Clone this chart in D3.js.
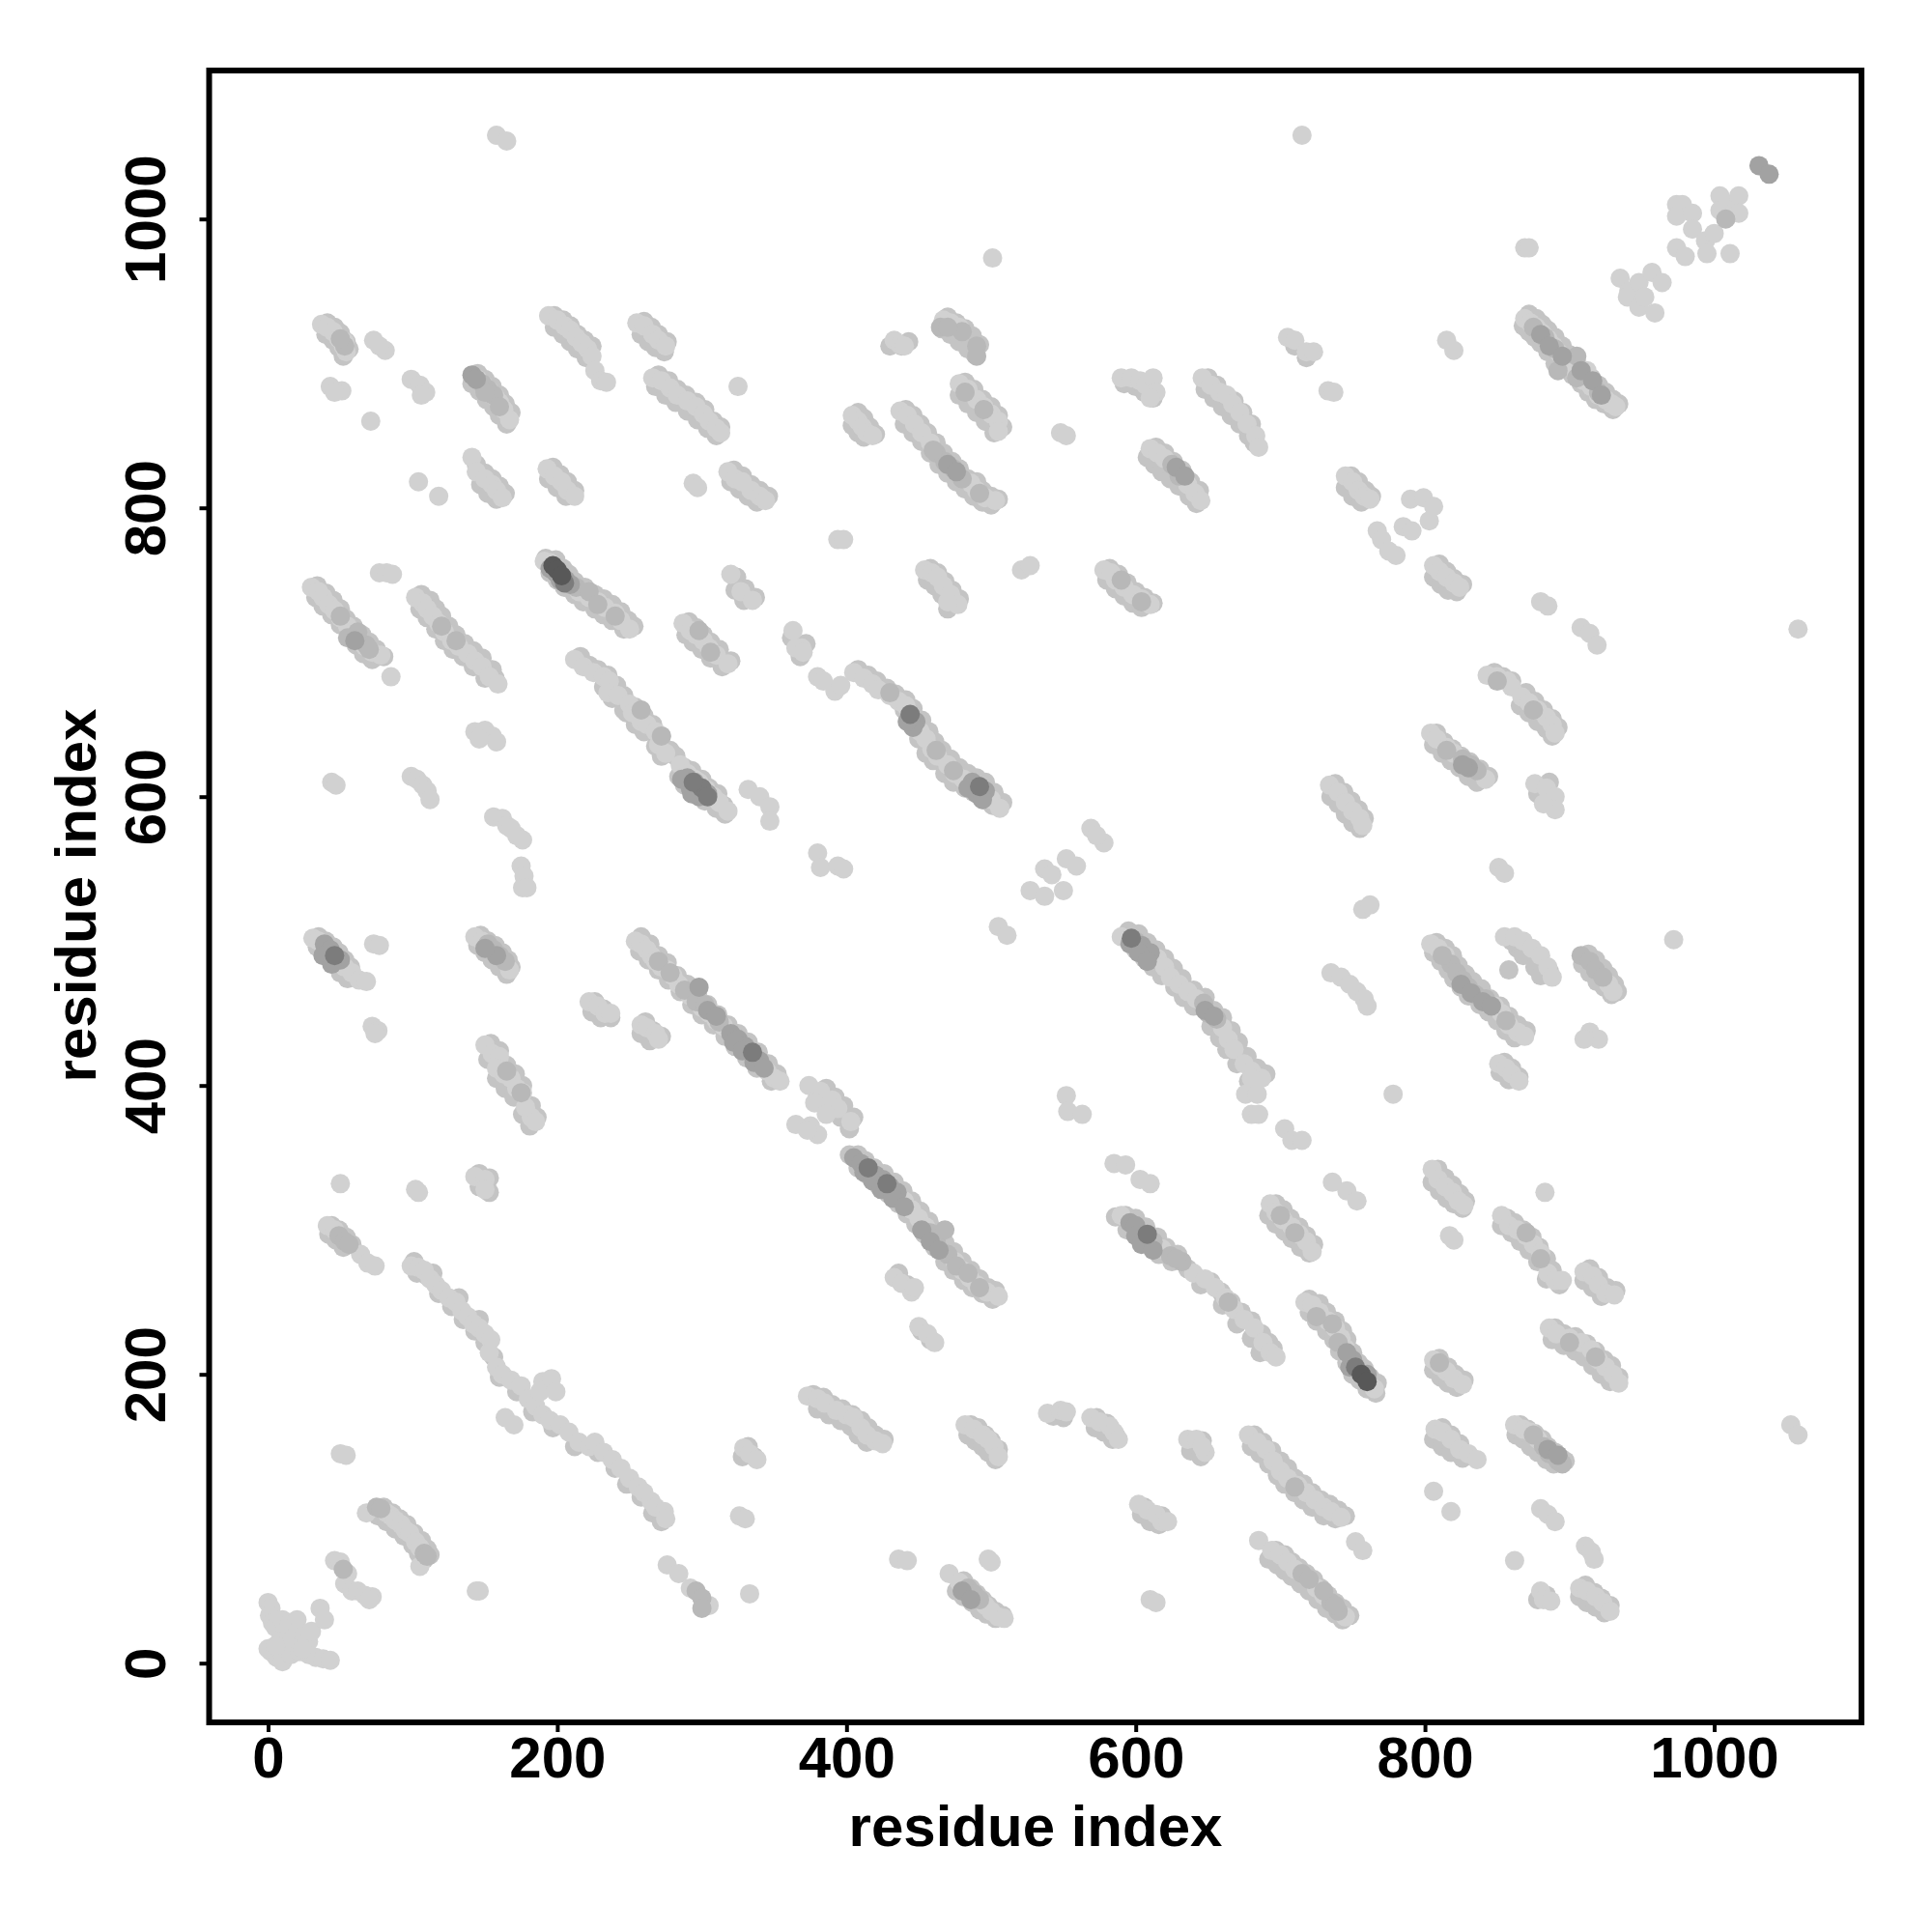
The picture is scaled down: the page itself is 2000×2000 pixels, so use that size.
<!DOCTYPE html>
<html><head><meta charset="utf-8"><script src="https://d3js.org/d3.v7.min.js"></script>
<style>html,body{margin:0;background:#fff}svg{display:block}text{font-family:"Liberation Sans",Arial,sans-serif;font-weight:700;fill:#000}</style></head>
<body><div id="c"></div><script>
const xTicks=[0,200,400,600,800,1000], yTicks=[0,200,400,600,800,1000];
const xLabel="residue index", yLabel="residue index";
const underPoints=[
[103,270],[110,268],[118,256],[127,247],[135,238],[143,230],[150,222],[156,212],[160,198],[172,188],[183,174],[197,163],[212,150],[228,146],[240,135],[248,124],[258,115],[266,104],[272,98],[101,278],[114,270],[132,253],[146,238],
[258,503],[264,498],[270,490],[276,485],[283,476],[290,470],[297,463],[304,456],[311,449],[318,442],[325,436],[332,430],[339,423],[346,415],[352,408],[257,493],[263,487],[270,480],[277,473],[285,465],[293,456],[300,449],[308,442],[316,434],[323,427],[331,419],[338,412],[348,403],
[402,352],[408,352],[413,348],[419,343],[426,339],[433,333],[439,327],[445,320],[451,313],[457,306],[463,299],[468,291],[474,285],[480,278],[486,272],[492,266],[498,260],[503,258],[408,343],[415,338],[422,331],[429,325],[436,318],[442,311],[448,304],[454,297],[461,288],[468,278],[474,272],[481,265],[487,260],[494,256],[501,252],
[586,309],[593,310],[600,308],[607,302],[615,295],[621,288],[629,283],[594,300],[602,296],[609,290],[616,283],[625,278],[636,273],[645,262],[652,264],[659,257],[666,250],[673,243],[680,237],[687,228],[692,222],[660,248],[670,235],[680,225],[686,215],[695,218],
[595,507],[602,505],[608,499],[614,494],[620,488],[626,481],[632,474],[640,466],[648,461],[654,452],[660,447],[666,438],[671,430],[677,420],[684,412],[690,408],[600,494],[606,488],[612,482],[618,476],[627,468],[633,461],[640,455],[652,441],[658,433],[663,425],[670,415],[678,403],
[216,697],[222,691],[228,688],[235,684],[241,677],[246,670],[254,662],[260,656],[266,650],[272,642],[278,632],[282,628],[288,620],[293,618],[300,612],[305,606],[311,602],[315,594],[232,676],[238,668],[246,660],[254,650],[260,645],[268,635],[272,628],[284,614],[288,608],[296,603],[302,597],[310,592],[316,588],
[408,688],[415,684],[421,680],[428,675],[434,671],[441,667],[446,661],[452,653],[457,645],[461,638],[466,632],[472,626],[478,620],[484,616],[490,613],[496,610],[502,603],[508,596],[440,660],[445,650],[450,640],[455,630],[460,625],[468,616],[474,610],[482,606],[488,603],[495,598],[501,594],
[34,746],[40,741],[45,736],[50,730],[54,723],[59,718],[65,712],[70,707],[75,702],[33,738],[38,732],[44,726],[50,719],[56,712],[61,705],[66,699],[72,695],[80,697],
[106,740],[112,736],[116,730],[120,725],[125,718],[130,712],[136,706],[142,701],[148,696],[155,688],[105,730],[110,724],[116,716],[122,708],[128,702],[135,697],[142,690],[150,682],[157,682],
[192,765],[199,764],[204,758],[208,754],[212,749],[219,745],[226,740],[232,737],[238,733],[244,728],[249,722],[253,718],[195,755],[200,750],[205,745],[212,740],[218,735],[226,730],[232,726],[238,722],[246,716],
[872,934],[877,931],[881,927],[885,923],[890,918],[895,912],[900,906],[905,900],[910,895],[915,890],[920,885],[925,880],[930,875],[934,872],[868,926],[872,922],[876,918],[880,914],[885,908],[890,900],[896,898],[902,892],[908,886],[913,880],[918,875],[924,872],[930,868],
[720,252],[727,249],[732,243],[738,237],[743,230],[746,224],[750,215],[754,208],[758,204],[762,198],[767,194],[720,243],[725,237],[732,230],[737,224],[741,216],[746,208],[750,200],[755,196],[760,190],[766,187],
[808,499],[814,495],[819,490],[823,483],[828,477],[833,472],[839,467],[845,460],[852,455],[858,448],[864,442],[870,438],[806,492],[811,486],[816,480],[820,474],[825,468],[830,462],[838,456],[844,451],[850,445],[856,438],[862,433],
[682,158],[688,153],[694,147],[700,140],[705,135],[710,128],[716,124],[722,118],[728,113],[734,110],[740,106],[745,102],[680,150],[686,145],[692,138],[698,130],[703,124],[710,118],[716,113],[722,108],[730,102],[738,100],
[697,78],[703,75],[708,70],[713,66],[718,62],[723,58],[728,52],[733,47],[738,42],[743,38],[748,33],[692,72],[698,68],[703,64],[708,60],[714,55],[720,50],[726,44],[732,38],[738,34],[743,30],
[481,57],[486,52],[490,48],[494,44],[498,40],[503,36],[508,33],[476,50],[481,46],[487,42],[492,37],[497,34],[503,31],
[441,868],[446,864],[451,858],[456,852],[462,845],[467,838],[473,832],[478,827],[484,820],[490,818],[494,812],[500,808],[505,806],[440,858],[446,852],[452,846],[458,838],[464,830],[470,824],[476,818],[482,813],[488,808],[494,804],[500,802],
[198,933],[204,930],[209,926],[214,920],[219,916],[224,912],[198,925],[204,920],[209,915],[214,910],[220,904],
[145,893],[150,889],[155,884],[160,878],[164,872],[168,866],[141,886],[146,881],[151,875],[156,870],[160,864],[165,858],
[270,892],[277,888],[283,882],[289,878],[296,873],[302,868],[308,860],[313,856],[268,884],[275,878],[282,873],[290,867],[297,861],[304,855],[310,850],
[614,842],[620,838],[626,832],[632,826],[638,818],[644,812],[608,835],[613,830],[618,825],[624,820],[630,815],[637,808],[642,803],
[650,890],[656,885],[662,878],[668,874],[674,866],[680,858],[648,882],[654,876],[660,870],[666,864],[672,858],[678,850],[682,845],
[808,644],[813,638],[819,633],[825,628],[831,624],[838,619],[844,614],[806,636],[812,630],[818,625],[824,620],[830,614],[836,610],
[848,686],[854,683],[860,680],[870,672],[876,666],[882,660],[888,654],[892,648],[866,663],[872,658],[878,652],[884,647],[888,642],
[857,308],[862,305],[868,300],[874,295],[879,288],[884,280],[888,272],[853,303],[860,298],[866,292],[872,286],[878,278],[884,266],[893,262],
[890,232],[896,228],[904,226],[912,221],[918,216],[924,210],[929,206],[934,198],[888,224],[896,220],[904,216],[910,212],[916,206],[922,200],[928,195],
[866,165],[871,162],[876,159],[881,155],[885,150],[890,146],[894,142],[897,140],[863,158],[868,155],[873,150],[878,146],[884,141],[889,138],
[486,165],[491,163],[496,158],[500,154],[505,148],[484,158],[489,154],[494,150],[498,146],[503,141],
[35,503],[40,500],[45,496],[49,492],[53,487],[57,482],[34,496],[40,490],[45,484],[50,478],[55,474],
[147,504],[152,500],[157,497],[162,492],[166,487],[168,482],[145,497],[150,492],[155,487],[160,482],[165,477],
[913,491],[918,487],[923,481],[927,476],[931,470],[933,465],[909,484],[914,478],[919,472],[924,468],[929,463],
[44,303],[49,300],[54,295],[58,290],[42,297],[47,293],[52,288],
[80,108],[86,104],[91,100],[96,96],[101,90],[106,85],[110,79],[112,75],[76,102],[82,98],[88,93],[94,88],[100,82],[104,76],[108,72],
[144,830],[150,824],[155,820],[160,815],[164,810],[147,816],[152,810],[158,806],
[41,928],[46,925],[50,921],[54,915],[56,910],[40,920],[45,916],[49,911],[52,905],
[377,186],[384,184],[390,179],[397,176],[404,172],[410,168],[415,163],[420,158],[426,155],[380,176],[388,172],[396,168],[403,164],[408,158],[414,153],
[260,929],[265,925],[270,920],[276,915],[258,920],[263,915],[268,911],[274,908],
[470,932],[476,928],[482,924],[487,919],[492,913],[466,924],[472,920],[478,915],[484,910],[489,906],
[482,887],[488,882],[494,875],[500,870],[505,864],[508,856],[478,878],[484,872],[490,866],[496,860],[502,852],
[291,721],[296,717],[301,712],[306,707],[312,702],[320,694],[289,712],[294,707],[300,702],[306,696],[314,690],
[697,318],[702,314],[707,308],[713,302],[718,296],[723,290],[692,310],[697,304],[703,299],[708,294],[714,288],[720,284],
[738,609],[744,603],[749,597],[754,591],[758,585],[735,600],[740,595],[745,588],[750,582],[755,578],
[582,758],[588,754],[594,748],[600,742],[606,738],[612,734],[580,750],[586,744],[592,739],[598,734],[604,731],
[458,758],[463,755],[468,749],[473,743],[478,737],[456,750],[461,746],[466,740],[470,730],
[408,866],[412,862],[416,856],[420,851],[404,857],[408,852],[412,849],
[809,342],[814,336],[819,331],[824,325],[828,320],[805,333],[810,327],[815,322],[820,318],[826,315],
[810,211],[816,205],[821,200],[827,196],[806,203],[811,198],[816,194],[822,191],
[812,163],[818,158],[824,152],[806,155],[812,150],[818,146],[826,142],
[749,822],[754,818],[759,812],[763,808],[745,814],[750,808],[756,804],
[810,761],[815,756],[820,751],[826,747],[806,752],[811,747],[816,743],[822,742],
[154,429],[160,424],[165,414],[171,408],[176,400],[182,386],[186,378],[152,418],[158,405],[164,398],[170,392],[176,380],[181,372],
[146,339],[153,336],[146,330],[153,326],[592,886],[600,884],[606,880],[612,876],[197,828],[202,823],[207,818],[212,812],[194,820],[200,814],[206,808],[322,826],[328,822],[334,816],[340,812],[346,808],[320,818],[326,813],[332,808],[338,804],
[226,458],[232,453],[237,447],[224,451],[230,447],[324,752],[330,744],[337,738],[323,743],[329,736],[261,444],[266,438],[272,434],[258,436],[264,431],[855,416],[860,412],[865,406],[852,409],[858,404],[914,273],[920,267],[926,260],[932,258],[910,265],[916,260],[922,254],[911,54],[917,49],[922,45],[928,40],[907,46],[912,42],[918,39],[924,35],[884,47],[878,44],
[640,152],[646,154],[638,147],[645,143],[606,108],[612,102],[618,102],[604,103],[610,98],[616,96],[332,150],[336,143],[328,143],[543,171],[550,170],[573,170],[580,166],[586,158],[572,163],[578,160],[584,155],[362,710],[368,697],[372,706],[386,398],[392,392],[398,386],[405,378],[380,392],[388,384],[396,378],[402,370],[858,480],[864,495],[872,492],[880,484],[886,479],[860,500],[868,490],[876,482],[880,476],[886,610],[878,602],[888,596],[452,230],[458,224],[436,270],[442,262],[248,658],[438,912],[430,912],[443,915],[710,912],[718,904]
];
const lightPoints=[
[0,42],[2,38],[1,33],[3,28],[5,25],[10,30],[15,28],[20,30],[12,22],[18,18],[8,15],[14,12],[25,20],[28,15],[30,22],[2,8],[6,4],[10,1],[16,6],[22,8],[28,6],[33,4],[38,3],[43,2],[36,38],[39,30],[0,10],[5,12],[24,10],
[46,71],[50,70],[55,62],[53,55],[58,50],[62,50],[67,47],[72,46],[70,44],[68,104],[82,104],[85,102],[88,99],[92,96],[95,92],[98,90],[102,84],[105,80],[105,67],[144,50],[146,50],[50,145],[54,144],
[99,275],[104,274],[108,272],[112,266],[116,262],[120,258],[125,253],[130,250],[134,244],[138,240],[142,235],[146,232],[150,228],[154,224],[153,215],[158,205],[162,200],[168,196],[175,192],[180,183],[185,178],[190,172],[195,168],[202,165],[208,160],[215,153],[222,150],[226,153],[232,146],[238,141],[244,135],[250,128],[256,122],[260,118],[265,112],[268,108],[274,105],[275,100],[190,195],[188,188],[196,197],[199,188],[164,170],[170,165],
[158,1058],[165,1054],[715,1058],[974,1010],[978,1010],[974,1002],[985,1004],[985,993],[994,985],[1000,990],[1008,1010],[1017,1016],[1004,1016],[1017,1004],[1004,1006],[974,980],[980,974],[995,976],[1011,976],[935,959],[941,950],[948,956],[957,963],[964,956],[940,946],[948,939],[959,935],[952,946],[869,980],[872,980],[501,973],[815,916],[820,909],
[869,931],[873,928],[877,925],[881,921],[885,917],[889,912],[893,907],[897,903],[901,898],[905,893],[910,888],[915,884],[920,878],[925,875],[929,872],[932,870],[912,895],
[37,927],[41,925],[45,922],[49,917],[52,912],[54,908],[53,915],[43,884],[51,881],[46,880],[73,916],[81,909],[77,912],[71,860],[99,889],[105,885],[109,880],[106,878],[104,818],[118,808],
[145,889],[149,885],[153,881],[157,877],[160,873],[163,868],[167,861],[141,835],[144,825],[150,820],[155,816],[158,812],[162,807],
[194,933],[200,930],[205,926],[209,923],[213,918],[217,914],[221,910],[224,905],[226,895],[230,888],[234,887],[255,928],[260,926],[266,920],[270,916],[275,912],[266,890],[272,888],[278,883],[283,878],[290,874],[296,870],[301,865],[305,860],[310,855],[313,852],[325,884],[294,817],[297,814],[318,825],[323,820],[328,818],[334,812],[340,808],[344,805],[193,827],[198,822],[203,818],[207,812],[212,808],[394,778],[398,778],
[191,763],[195,762],[215,742],[222,738],[228,735],[233,731],[240,727],[244,722],[250,716],[287,720],[292,715],[296,712],[301,708],[305,703],[310,698],[318,692],[320,754],[327,742],[335,736],[454,757],[459,755],[463,752],[467,746],[472,740],[477,733],[470,735],[77,755],[82,755],[86,754],
[30,745],[35,742],[38,738],[42,733],[46,729],[50,724],[55,718],[60,713],[63,708],[67,704],[72,700],[78,698],[85,683],[102,738],[107,734],[110,730],[114,725],[118,720],[122,714],[127,708],[132,704],[138,699],[143,694],[148,690],[153,683],[159,678],[143,645],[150,646],[155,642],[158,638],[146,640],[44,610],[47,608],[99,614],[103,612],[107,608],[110,604],[112,598],
[156,586],[162,585],[165,580],[172,573],[168,578],[176,570],[175,552],[177,545],[176,537],[179,537],
[212,695],[218,690],[225,686],[232,683],[236,680],[235,672],[242,670],[250,664],[252,658],[258,652],[262,650],[268,645],[270,636],[275,630],[285,622],[290,616],[295,612],[298,610],[303,605],[308,600],[312,596],[318,590],[332,605],[340,600],[347,593],[347,583],[363,715],[369,703],[365,703],[370,700],[380,683],[384,680],[392,673],[396,677],
[405,686],[412,682],[418,678],[422,674],[430,670],[436,666],[441,663],[451,645],[455,640],[459,633],[463,628],[470,622],[475,616],[481,612],[500,598],[506,592],[380,561],[382,551],[394,552],[398,550],
[578,757],[583,755],[586,750],[592,745],[598,740],[604,737],[610,733],[521,757],[527,760],[705,918],[710,916],[718,908],[723,908],[733,881],[737,880],[590,890],[597,890],[603,888],[607,885],[612,890],[614,880],[610,876],[646,890],[652,885],[658,880],[663,878],[667,872],[672,866],[677,858],[683,850],[685,842],
[404,864],[408,860],[411,856],[414,852],[418,850],[437,867],[442,864],[447,858],[452,852],[458,845],[486,817],[490,812],[496,807],[503,805],[433,916],[437,913],[440,912],[467,930],[472,928],[478,925],[478,886],[484,882],[490,875],[495,870],[500,865],[505,860],[505,853],[548,852],[552,850],[610,841],[615,838],[620,834],[636,816],[641,810],[645,805],
[745,822],[750,818],[754,812],[758,808],[762,806],[790,806],[799,807],[806,801],[803,791],[767,784],[770,778],[775,770],[785,787],[791,784],[780,767],[806,760],[810,756],[815,752],[820,748],[824,745],[880,735],[885,732],[908,717],[914,713],[919,705],[843,684],[850,683],[857,680],[860,676],[867,669],[872,665],[878,660],[884,655],[888,650],[890,644],[804,644],[808,640],[815,634],[820,630],[842,612],[876,609],[884,606],[890,600],[890,591],[882,595],[851,551],[855,547],
[734,608],[740,603],[745,596],[750,590],[755,585],[757,580],[527,535],[537,531],[537,550],[542,546],[550,535],[552,557],[559,552],[569,578],[578,568],[573,573],[505,510],[511,504],[757,522],[762,525],[972,501],
[31,502],[35,500],[53,482],[58,478],[63,473],[68,472],[73,498],[77,497],[143,503],[148,500],[167,480],[72,441],[76,438],[74,436],[150,428],[155,422],[160,420],[158,412],[163,408],[168,405],[172,398],[176,395],[178,385],[182,378],[185,375],[222,458],[228,455],[233,450],[237,450],
[254,500],[258,498],[262,494],[265,490],[268,486],[272,482],[276,480],[280,476],[284,470],[292,462],[300,454],[305,450],[310,445],[315,441],[345,410],[350,405],[354,403],[258,442],[262,440],[268,436],[270,432],
[590,503],[615,488],[620,482],[624,475],[630,470],[636,465],[642,460],[660,440],[664,432],[668,425],[675,415],[680,410],[687,405],[680,405],[676,394],[684,394],[680,380],[685,380],[703,370],[708,362],[715,362],[735,478],[742,475],[748,470],[753,465],[758,460],[760,455],[778,394],
[804,498],[809,495],[814,490],[848,455],[853,450],[858,442],[864,437],[869,434],[855,503],[862,503],[868,500],[874,495],[880,490],[885,482],[888,475],[927,470],[930,465],[914,437],[920,432],[910,432],[851,415],[856,412],[860,408],[865,403],
[375,372],[380,366],[374,400],[382,396],[390,390],[394,384],[403,375],[378,388],[386,380],[365,373],[373,369],[552,393],[553,382],[563,380],
[440,320],[445,314],[450,308],[455,302],[475,278],[480,272],[485,267],[490,262],[497,257],[505,254],[433,267],[438,263],[445,257],[447,260],[450,233],[456,228],[461,222],[585,346],[593,345],[603,335],[610,332],
[590,310],[618,287],[640,270],[648,266],[655,260],[662,253],[668,245],[675,238],[682,232],[688,222],[693,215],[697,212],[693,318],[697,312],[702,307],[708,302],[713,297],[718,292],[722,285],[736,333],[746,327],[753,320],
[717,250],[722,248],[727,243],[733,237],[738,232],[742,225],[745,218],[748,210],[765,190],[805,342],[809,335],[814,330],[819,326],[823,320],[827,317],[817,296],[820,293],
[853,310],[858,303],[864,300],[870,296],[875,290],[880,284],[885,270],[890,265],[895,265],[883,326],[910,271],[916,268],[920,262],[925,256],[931,255],[886,232],[891,228],[900,225],[908,222],[915,217],[920,210],[925,205],[930,200],[934,194],[806,210],[810,206],[815,202],[820,197],[826,193],
[807,162],[812,160],[818,155],[824,148],[830,145],[836,141],[862,165],[868,162],[873,160],[878,155],[806,119],[818,105],[862,71],[880,107],[885,103],[890,98],[911,81],[915,77],[917,72],[880,50],[882,44],[887,43],[907,52],[912,50],[918,46],[923,42],[928,36],[752,84],[757,78],
[685,85],[694,78],[700,75],[705,70],[710,65],[725,52],[730,47],[745,32],[678,158],[684,153],[690,148],[695,140],[700,133],[705,128],[712,123],[718,118],[724,113],[730,108],[735,105],[742,101],[636,155],[642,155],[648,146],[646,150],[602,110],[608,106],[614,103],[618,98],[622,98],[610,44],[614,42],
[539,173],[548,175],[552,174],[569,170],[575,167],[582,164],[585,160],[588,155],[482,165],[488,162],[494,158],[498,155],[502,150],[505,143],[373,185],[380,183],[385,180],[393,175],[400,172],[405,170],[410,163],[414,158],[420,154],[425,152],[329,149],[333,145],[338,141],[326,102],[330,100],[276,68],[284,62],[292,52],[305,40],[333,48],[436,72],[442,71],[471,62],[478,56],[496,40],[500,36],[505,32],[509,31],[498,72],[500,70],[1058,716],[1053,165],[1058,158],[50,332],[102,328],[104,326],[143,337],[150,335],[150,328],[41,303],[46,300],[64,283],[69,277],[74,275]
];
const midPoints=[
[75,108],[78,107],[108,76],[110,74],[52,65],[148,886],[152,882],[156,878],[213,745],[62,710],[68,705],[53,912],[50,917],[465,925],[480,922],[490,912],[462,838],[468,832],[474,827],[480,820],[625,830],[630,822],[826,626],[832,622],[836,618],[882,150],[886,145],[892,140],[895,138],[484,52],[488,48],[492,44],[296,50],[300,45],[300,38],[152,498],[156,494],[160,490],[164,486],[908,490],[914,486],[918,480],[923,475],[1008,1000],[905,905],[892,895],[875,925],[883,918],[890,910],[905,890],[920,880],[49,296],[53,292],[56,290],[715,62],[720,58],[735,42],[740,36],[288,466],[296,458],[458,298],[462,293],[470,283],[736,235],[600,500],[606,297],[612,292],[624,282],[632,278],[647,457],[650,450],[656,446],[818,484],[822,478],[826,473],[830,468],[835,463],[842,460],
[270,486],[278,478],[302,456],[312,444],[468,300],[476,275],[484,270],[492,260],[628,280],[664,250],[730,50],[738,40],[710,122],[812,490],[856,445],[150,880],[160,870],[470,925],[490,905],[240,725],[222,742],[228,733],[62,714],[70,702],[120,718],[130,708],[258,660],[272,642],[430,672],[462,632],[474,618],[590,750],[604,735],[815,632],[850,680],[875,660],[810,208],[725,240],[740,222],[700,310],[710,298],[870,298],[880,280],[900,222],[918,212],[165,410],[175,395],[875,158],[55,710],[50,725],[298,715],[306,700],[482,880],[495,868],[460,840],[492,810]
];
const darkPoints=[
[1031,1037],[1038,1031],[141,892],[144,889],[206,750],[209,747],[290,613],[295,610],[304,602],[320,436],[325,432],[330,427],[340,417],[405,350],[410,346],[420,338],[425,335],[430,330],[435,326],[448,652],[487,610],[496,604],[604,497],[610,492],[39,498],[43,494],[50,487],[596,305],[600,303],
[195,758],[199,755],[202,750],[292,606],[298,600],[286,612],[293,602],[322,430],[328,424],[336,416],[343,412],[412,340],[418,334],[424,328],[432,322],[440,316],[452,300],[458,292],[464,286],[446,648],[442,652],[490,602],[494,598],[484,606],[748,205],[750,210],[746,215],[760,200],[596,498],[602,492],[608,486],[38,490],[44,484],[600,296],[604,290],[612,286],[880,920],[886,912],[895,905],[908,895],[916,888],[922,878],[60,708],[648,452],[654,448],[825,470],[832,464],[840,458],[846,455],[298,468],[304,452],[310,448],[480,50],[486,44],[885,148],[892,144],[158,490],[150,495],[470,830],[476,825],[628,828],[634,822],[830,620],[826,622]
];
const deepPoints=[[300,606],[294,610],[335,423],[415,343],[444,657],[492,607],[752,205],[597,502],[608,297],[46,490],[205,748],[428,332],[304,600]];
const darkestPoints=[[197,760],[200,757],[203,753],[756,200],[760,195]];
const groups=[[underPoints,"#c4c4c4"],[lightPoints,"#d1d1d1"],[midPoints,"#b8b8b8"],[darkPoints,"#a2a2a2"],[deepPoints,"#7c7c7c"],[darkestPoints,"#585858"]];

const W=2000,H=2000,L=216.5,R=1927,T=73,B=1783;
const x=d3.scaleLinear().domain([0,1000]).range([277.5,1774.5]);
const y=d3.scaleLinear().domain([0,1000]).range([1721.7,226.7]);
const svg=d3.select("#c").append("svg").attr("width",W).attr("height",H);
const plot=svg.append("g");
groups.forEach(([pts,c])=>{
  plot.selectAll(null).data(pts).join("circle").attr("cx",d=>x(d[0])).attr("cy",d=>y(d[1])).attr("r",10).attr("fill",c);
});
svg.append("rect").attr("x",L).attr("y",T).attr("width",R-L).attr("height",B-T).attr("fill","none").attr("stroke","#000").attr("stroke-width",6);
const fmt=d3.format("d");
const ax=svg.append("g").attr("transform",`translate(0,${B})`).call(d3.axisBottom(x).tickValues(xTicks).tickFormat(fmt).tickSize(10));
const ay=svg.append("g").attr("transform",`translate(${L},0)`).call(d3.axisLeft(y).tickValues(yTicks).tickFormat(fmt).tickSize(10));
[ax,ay].forEach(a=>{a.select(".domain").remove();a.selectAll("line").attr("stroke","#000").attr("stroke-width",4);a.selectAll("text").style("font-size","60px").attr("fill","#000");});
ax.selectAll("text").attr("dy",0).attr("y",57);
ay.selectAll("text").attr("x",null).attr("dy",0).attr("text-anchor","middle").attr("transform",`translate(${171-L},0) rotate(-90)`);
svg.append("text").attr("x",1072).attr("y",1911).attr("text-anchor","middle").style("font-size","60px").text(xLabel);
svg.append("text").attr("transform","translate(99,927) rotate(-90)").attr("text-anchor","middle").style("font-size","60px").text(yLabel);
</script></body></html>
